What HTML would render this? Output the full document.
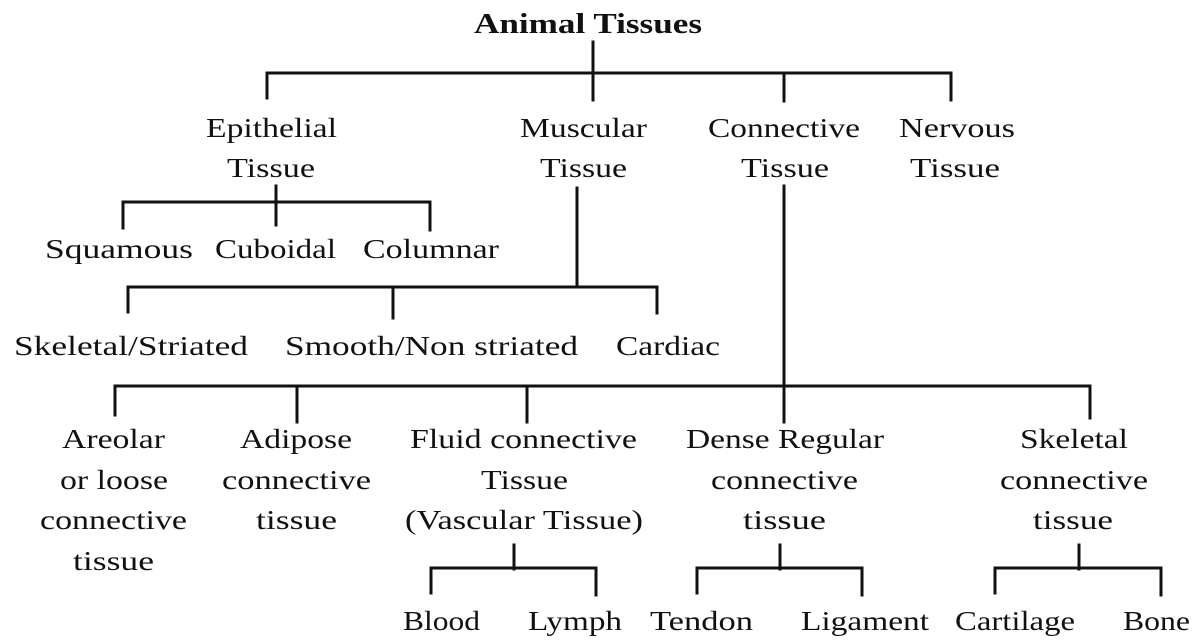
<!DOCTYPE html>
<html><head><meta charset="utf-8"><style>
html,body{margin:0;padding:0;background:#fff;}
svg{display:block;}
text{font-family:"Liberation Serif",serif;font-size:27px;fill:#111;}
</style></head><body>
<svg width="1200" height="644" viewBox="0 0 1200 644" xmlns="http://www.w3.org/2000/svg">
<g stroke="#111" stroke-width="3" fill="none" stroke-linecap="square">
<!-- root -->
<path d="M593 42V100 M267 98V73H951V100 M784 73V101"/>
<!-- epithelial -->
<path d="M276 186V225 M123 228V202H430V230"/>
<!-- muscular -->
<path d="M577 188V287 M128 312V287H657V313 M393 287V318"/>
<!-- connective -->
<path d="M784 186V422 M115 415V386H1090V418 M297 386V422 M527 386V422"/>
<!-- fluid -->
<path d="M514 545V569 M431 593V568H596V595"/>
<!-- dense -->
<path d="M780 545V569 M697 593V568H862V595"/>
<!-- skeletal -->
<path d="M1079 545V569 M995 593V568H1161V595"/>
</g>
<g text-anchor="start">
<text x="474" y="33" textLength="228" lengthAdjust="spacingAndGlyphs" style="font-weight:bold;font-size:28px">Animal Tissues</text>

<text x="206" y="137" textLength="131" lengthAdjust="spacingAndGlyphs">Epithelial</text>
<text x="227" y="177" textLength="88" lengthAdjust="spacingAndGlyphs">Tissue</text>
<text x="520" y="137" textLength="127" lengthAdjust="spacingAndGlyphs">Muscular</text>
<text x="540" y="177" textLength="87" lengthAdjust="spacingAndGlyphs">Tissue</text>
<text x="708" y="137" textLength="152" lengthAdjust="spacingAndGlyphs">Connective</text>
<text x="741" y="177" textLength="88" lengthAdjust="spacingAndGlyphs">Tissue</text>
<text x="899" y="137" textLength="116" lengthAdjust="spacingAndGlyphs">Nervous</text>
<text x="910" y="177" textLength="90" lengthAdjust="spacingAndGlyphs">Tissue</text>

<text x="45" y="258" textLength="148" lengthAdjust="spacingAndGlyphs">Squamous</text>
<text x="215" y="258" textLength="121" lengthAdjust="spacingAndGlyphs">Cuboidal</text>
<text x="363" y="258" textLength="136" lengthAdjust="spacingAndGlyphs">Columnar</text>

<text x="14" y="355" textLength="234" lengthAdjust="spacingAndGlyphs">Skeletal/Striated</text>
<text x="285" y="355" textLength="293" lengthAdjust="spacingAndGlyphs">Smooth/Non striated</text>
<text x="616" y="355" textLength="104" lengthAdjust="spacingAndGlyphs">Cardiac</text>

<text x="62" y="448" textLength="103" lengthAdjust="spacingAndGlyphs">Areolar</text>
<text x="60" y="489" textLength="108" lengthAdjust="spacingAndGlyphs">or loose</text>
<text x="40" y="529" textLength="147" lengthAdjust="spacingAndGlyphs">connective</text>
<text x="73" y="570" textLength="81" lengthAdjust="spacingAndGlyphs">tissue</text>

<text x="240" y="448" textLength="112" lengthAdjust="spacingAndGlyphs">Adipose</text>
<text x="222" y="489" textLength="149" lengthAdjust="spacingAndGlyphs">connective</text>
<text x="256" y="529" textLength="81" lengthAdjust="spacingAndGlyphs">tissue</text>

<text x="410" y="448" textLength="227" lengthAdjust="spacingAndGlyphs">Fluid connective</text>
<text x="481" y="489" textLength="87" lengthAdjust="spacingAndGlyphs">Tissue</text>
<text x="405" y="529" textLength="238" lengthAdjust="spacingAndGlyphs">(Vascular Tissue)</text>

<text x="686" y="448" textLength="198" lengthAdjust="spacingAndGlyphs">Dense Regular</text>
<text x="711" y="489" textLength="147" lengthAdjust="spacingAndGlyphs">connective</text>
<text x="743" y="529" textLength="83" lengthAdjust="spacingAndGlyphs">tissue</text>

<text x="1020" y="448" textLength="108" lengthAdjust="spacingAndGlyphs">Skeletal</text>
<text x="1000" y="489" textLength="148" lengthAdjust="spacingAndGlyphs">connective</text>
<text x="1033" y="529" textLength="80" lengthAdjust="spacingAndGlyphs">tissue</text>

<text x="403" y="630" textLength="77" lengthAdjust="spacingAndGlyphs">Blood</text>
<text x="528" y="630" textLength="94" lengthAdjust="spacingAndGlyphs">Lymph</text>
<text x="650" y="630" textLength="103" lengthAdjust="spacingAndGlyphs">Tendon</text>
<text x="801" y="630" textLength="128" lengthAdjust="spacingAndGlyphs">Ligament</text>
<text x="955" y="630" textLength="120" lengthAdjust="spacingAndGlyphs">Cartilage</text>
<text x="1123" y="630" textLength="67" lengthAdjust="spacingAndGlyphs">Bone</text>
</g>
</svg>
</body></html>
